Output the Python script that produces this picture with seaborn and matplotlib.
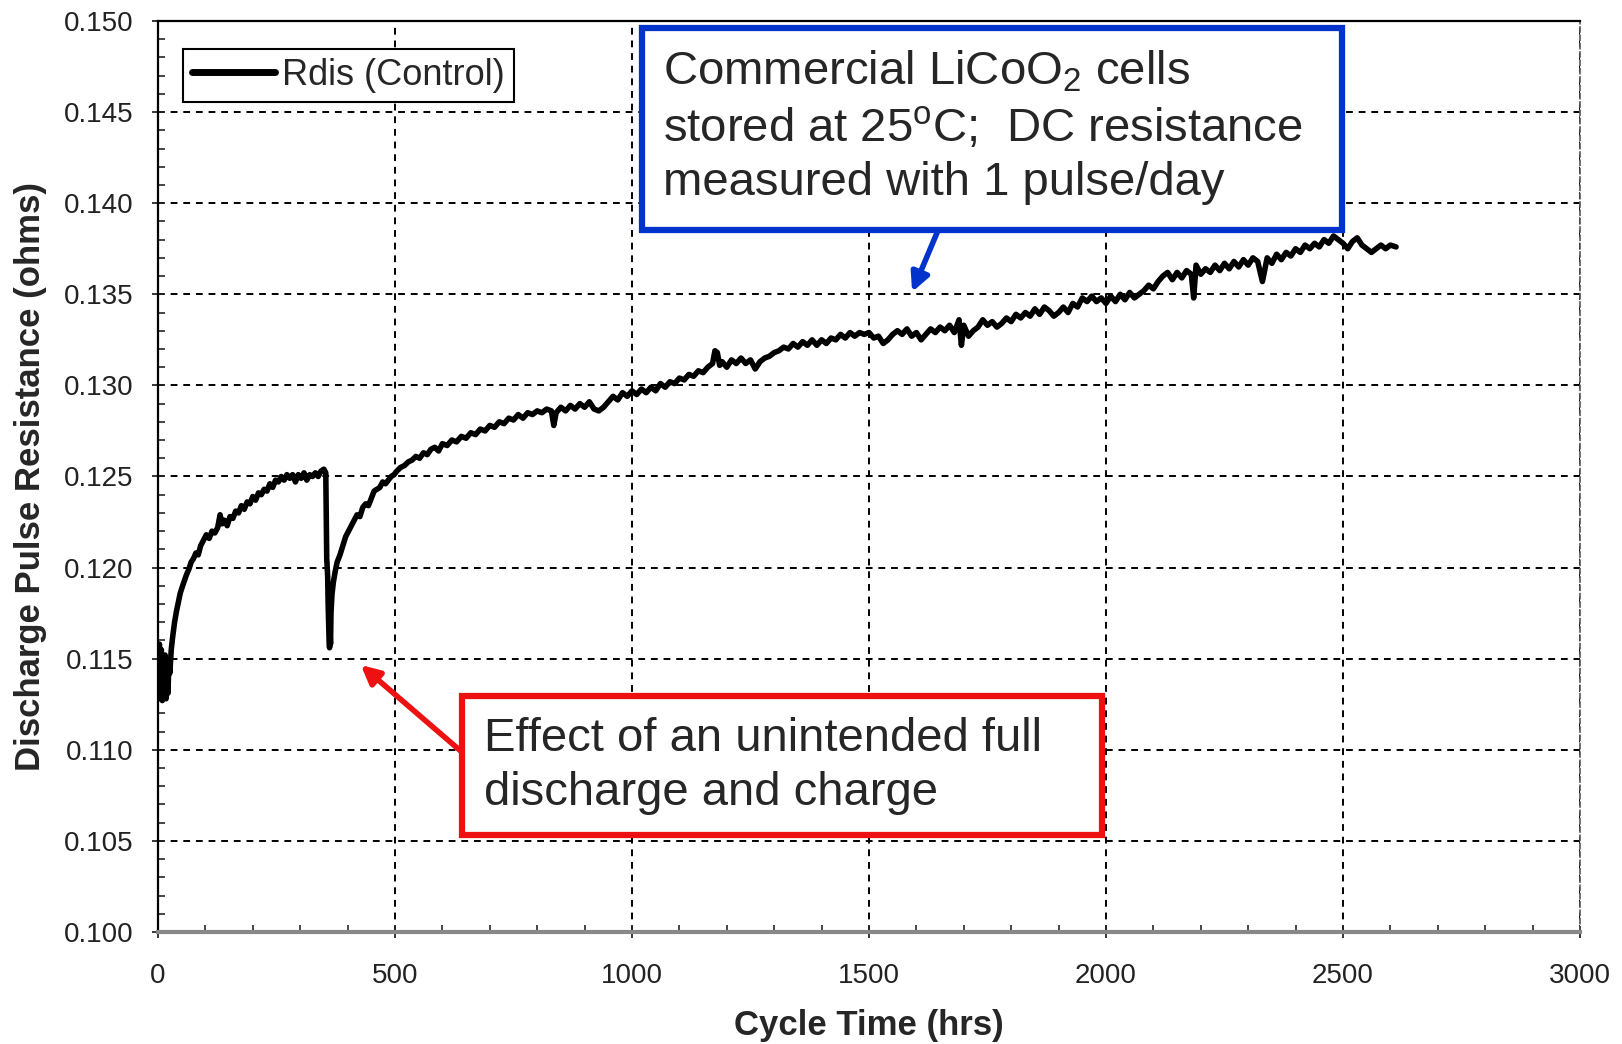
import pandas as pd
import matplotlib.pyplot as plt
import seaborn as sns
from matplotlib.patches import Rectangle
from matplotlib.ticker import MultipleLocator, FormatStrFormatter

# ----------------------
# Data
# ----------------------

hours = [
    0, 3, 5, 7, 9, 11, 13, 15, 17, 19, 21, 23, 25, 28, 31,
    35, 39, 43, 47, 52, 56, 60, 65, 70, 75, 80, 85, 90, 96, 102, 108, 114, 120, 126, 131,
    135, 140, 146, 152, 158, 164, 170, 176, 182, 188, 194, 200, 206, 212, 218, 224, 230,
    236, 242, 248, 254, 260, 266, 272, 278, 284, 290, 296, 302, 308, 314, 320, 326, 332,
    338, 344, 350, 354,
    356, 358, 359, 360, 361, 362, 363, 364, 365, 367, 370, 374, 378, 384, 390, 396, 402,
    408, 414, 420, 426, 432, 438, 444, 450, 456, 462, 468, 474, 480, 486, 492, 498, 504,
    512, 520, 528, 536, 544, 552, 560, 568, 576, 584, 592, 600, 610, 620, 630, 640, 650,
    660, 670, 680, 690, 700, 710, 720, 730, 740, 750, 760, 770, 780, 790, 800, 810, 820,
    830, 835, 840, 850, 860, 870, 880, 890, 900, 910, 920, 930, 940, 950, 960, 970, 980,
    990, 1000, 1010, 1020, 1030, 1040, 1050, 1060, 1070, 1080, 1090, 1100, 1110, 1120,
    1130, 1140, 1150, 1160, 1170, 1175, 1180, 1185, 1190, 1200, 1210, 1220, 1230, 1240,
    1250, 1260, 1270, 1280, 1290, 1300, 1310, 1320, 1330, 1340, 1350, 1360, 1370, 1380,
    1390, 1400, 1410, 1420, 1430, 1440, 1450, 1460, 1470, 1480, 1490, 1500, 1510, 1520,
    1530, 1540, 1550, 1560, 1570, 1580, 1590, 1600, 1610, 1620, 1630, 1640, 1650, 1660,
    1670, 1680, 1690, 1695, 1700, 1710, 1720, 1730, 1740, 1750, 1760, 1770, 1780, 1790,
    1800, 1810, 1820, 1830, 1840, 1850, 1860, 1870, 1880, 1890, 1900, 1910, 1920, 1930,
    1940, 1950, 1960, 1970, 1980, 1990, 2000, 2010, 2020, 2030, 2040, 2050, 2060, 2070,
    2080, 2090, 2100, 2110, 2120, 2130, 2140, 2150, 2160, 2170, 2180, 2185, 2190, 2200,
    2210, 2220, 2230, 2240, 2250, 2260, 2270, 2280, 2290, 2300, 2310, 2320, 2330, 2340,
    2350, 2360, 2370, 2380, 2390, 2400, 2410, 2420, 2430, 2440, 2450, 2460, 2470, 2480,
    2490, 2500, 2510, 2520, 2530, 2540, 2550, 2560, 2570, 2580, 2590, 2600, 2612,
]

rdis = [
    0.1135, 0.1158, 0.1128, 0.1155, 0.1127, 0.1150, 0.1130, 0.1152, 0.1128, 0.1145, 0.1131, 0.1148, 0.1142, 0.1155, 0.1162,
    0.1170, 0.1176, 0.1181, 0.1186, 0.1190, 0.1193, 0.1196, 0.1199, 0.1203, 0.1205, 0.1208, 0.1207, 0.1212, 0.1215, 0.1218, 0.1216, 0.1220, 0.1219, 0.1222, 0.1229,
    0.1224, 0.1226, 0.1223, 0.1228, 0.1227, 0.1231, 0.1230, 0.1234, 0.1232, 0.1236, 0.1235, 0.1239, 0.1237, 0.1241, 0.1240, 0.1243, 0.1242,
    0.1246, 0.1244, 0.1248, 0.1247, 0.1250, 0.1248, 0.1251, 0.1249, 0.1251, 0.1247, 0.1251, 0.1249, 0.1252, 0.1248, 0.1251, 0.1250, 0.1252,
    0.1250, 0.1253, 0.1254, 0.1252,
    0.1205, 0.1195, 0.1180, 0.1170, 0.1160, 0.1156, 0.1165, 0.1158, 0.1175, 0.1185, 0.1192, 0.1198, 0.1203, 0.1207, 0.1212, 0.1217, 0.1220,
    0.1223, 0.1226, 0.1229, 0.1228, 0.1233, 0.1235, 0.1234, 0.1238, 0.1242, 0.1243, 0.1244, 0.1247, 0.1246, 0.1248, 0.1250, 0.1251, 0.1253,
    0.1255, 0.1256, 0.1258, 0.1259, 0.1261, 0.1260, 0.1263, 0.1262, 0.1265, 0.1266, 0.1264, 0.1268, 0.1267, 0.1270, 0.1269, 0.1272, 0.1271,
    0.1274, 0.1273, 0.1276, 0.1275, 0.1278, 0.1277, 0.1280, 0.1279, 0.1282, 0.1281, 0.1284, 0.1282, 0.1285, 0.1284, 0.1286, 0.1285, 0.1287,
    0.1286, 0.1278, 0.1285, 0.1288, 0.1286, 0.1289, 0.1287, 0.1290, 0.1288, 0.1291, 0.1287, 0.1286, 0.1288, 0.1291, 0.1294, 0.1292, 0.1296,
    0.1294, 0.1297, 0.1295, 0.1298, 0.1296, 0.1299, 0.1297, 0.1301, 0.1299, 0.1302, 0.1301, 0.1304, 0.1303, 0.1306,
    0.1305, 0.1308, 0.1307, 0.1310, 0.1312, 0.1319, 0.1318, 0.1311, 0.1313, 0.1310, 0.1314, 0.1312, 0.1315, 0.1312,
    0.1314, 0.1309, 0.1313, 0.1315, 0.1316, 0.1318, 0.1319, 0.1321, 0.1320, 0.1323, 0.1321, 0.1324, 0.1322, 0.1325,
    0.1322, 0.1325, 0.1323, 0.1326, 0.1325, 0.1328, 0.1326, 0.1329, 0.1327, 0.1329, 0.1328, 0.1329, 0.1326, 0.1327,
    0.1323, 0.1325, 0.1328, 0.1330, 0.1328, 0.1331, 0.1327, 0.1329, 0.1325, 0.1328, 0.1331, 0.1329, 0.1332, 0.1330,
    0.1333, 0.1329, 0.1336, 0.1322, 0.1333, 0.1327, 0.1330, 0.1332, 0.1336, 0.1333, 0.1335, 0.1332, 0.1334, 0.1337,
    0.1335, 0.1339, 0.1337, 0.1340, 0.1338, 0.1342, 0.1339, 0.1343, 0.1341, 0.1338, 0.1340, 0.1343, 0.1340, 0.1345,
    0.1343, 0.1348, 0.1346, 0.1349, 0.1346, 0.1348, 0.1345, 0.1349, 0.1346, 0.1350, 0.1347, 0.1351, 0.1348, 0.1350,
    0.1352, 0.1355, 0.1353, 0.1357, 0.1360, 0.1362, 0.1358, 0.1362, 0.1359, 0.1363, 0.1361, 0.1348, 0.1366, 0.1361,
    0.1364, 0.1362, 0.1366, 0.1363, 0.1367, 0.1364, 0.1368, 0.1365, 0.1369, 0.1366, 0.1370, 0.1368, 0.1357, 0.1370,
    0.1367, 0.1372, 0.1369, 0.1373, 0.1371, 0.1375, 0.1373, 0.1377, 0.1375, 0.1378, 0.1376, 0.1380, 0.1378, 0.1382,
    0.1380, 0.1378, 0.1375, 0.1379, 0.1381, 0.1377, 0.1375, 0.1373, 0.1375, 0.1377, 0.1375, 0.1377, 0.1376,
]

x_ticks = [0, 500, 1000, 1500, 2000, 2500, 3000]
y_ticks = [0.100, 0.105, 0.110, 0.115, 0.120, 0.125, 0.130, 0.135, 0.140, 0.145, 0.150]

blue_note = "Commercial LiCoO$_2$ cells\nstored at 25$^{\\rm o}$C;  DC resistance\nmeasured with 1 pulse/day"
red_note = "Effect of an unintended full\ndischarge and charge"

# ----------------------
# Plot
# ----------------------

sns.set_style("ticks")
plt.rcParams['font.family'] = ['Liberation Sans', 'DejaVu Sans']
plt.rcParams['mathtext.fontset'] = 'custom'
plt.rcParams['mathtext.rm'] = 'Liberation Sans'
plt.rcParams['mathtext.it'] = 'Liberation Sans'

df = pd.DataFrame({"hours": hours, "rdis": rdis})

fig = plt.figure(figsize=(16.22, 10.44), dpi=100)
ax = fig.add_axes([0.0974, 0.1073, 0.8767, 0.8726])

sns.lineplot(data=df, x="hours", y="rdis", color="black", lw=4,
             estimator=None, sort=False, label="Rdis (Control)", ax=ax)

ax.set_xlim(0, 3000)
ax.set_ylim(0.100, 0.150)
ax.set_xticks(x_ticks)
ax.set_yticks(y_ticks)
ax.xaxis.set_minor_locator(MultipleLocator(100))
ax.yaxis.set_minor_locator(MultipleLocator(0.001))
ax.yaxis.set_major_formatter(FormatStrFormatter("%.3f"))
ax.tick_params(which="major", direction="inout", length=9, width=1.3,
               labelsize=20, labelcolor="#222222")
ax.tick_params(axis="x", which="major", pad=18)
ax.tick_params(axis="y", which="major", pad=13)
ax.tick_params(which="minor", direction="in", length=5, width=1.2)

ax.grid(True, which="major", color="black", linestyle=(0, (3.5, 3)), lw=1.4)

for side in ["left", "top"]:
    ax.spines[side].set_color("black")
    ax.spines[side].set_linewidth(1.6)
ax.spines["bottom"].set_color("#888888")
ax.spines["bottom"].set_linewidth(3)
ax.spines["right"].set_color("#555555")
ax.spines["right"].set_linewidth(1.2)
ax.spines["right"].set_linestyle((0, (3, 2)))

ax.set_xlabel("Cycle Time (hrs)", fontsize=25, fontweight="bold", labelpad=14)
ax.set_ylabel("Discharge Pulse Resistance (ohms)", fontsize=25, fontweight="bold", labelpad=12)

leg = ax.legend(loc="upper left", bbox_to_anchor=(0.0176, 0.9693), fontsize=26,
                frameon=True, fancybox=False, edgecolor="black", framealpha=1,
                handlelength=2.3, handletextpad=0.2, borderpad=0.25, borderaxespad=0)
leg.get_frame().set_linewidth(1.5)
for line in leg.get_lines():
    line.set_linewidth(5)

# annotation boxes
ax.add_patch(Rectangle((0.3404, 0.7706), 0.8326 - 0.3404, 0.9923 - 0.7706,
                       transform=ax.transAxes, fill=True, facecolor="white",
                       edgecolor="#0033cc", lw=4.5, zorder=5))
ax.text(0.3551, 0.8836, blue_note, transform=ax.transAxes, fontsize=34,
        va="center", ha="left", linespacing=1.3, zorder=6)

ax.add_patch(Rectangle((0.2138, 0.1065), 0.6639 - 0.2138, 0.2591 - 0.1065,
                       transform=ax.transAxes, fill=True, facecolor="white",
                       edgecolor="#ee1111", lw=4.5, zorder=5))
ax.text(0.2293, 0.1822, red_note, transform=ax.transAxes, fontsize=34,
        va="center", ha="left", linespacing=1.3, zorder=6)

ax.annotate("", xy=(1591, 0.13513), xytext=(1646, 0.13853),
            arrowprops=dict(arrowstyle="-|>,head_length=1.1,head_width=0.55",
                            color="#0033cc", lw=4, shrinkA=0, shrinkB=0), zorder=6)
ax.annotate("", xy=(428, 0.11465), xytext=(641, 0.10988),
            arrowprops=dict(arrowstyle="-|>,head_length=1.1,head_width=0.55",
                            color="#ee1111", lw=4, shrinkA=0, shrinkB=0), zorder=6)

fig.savefig("out.png", dpi=100)
